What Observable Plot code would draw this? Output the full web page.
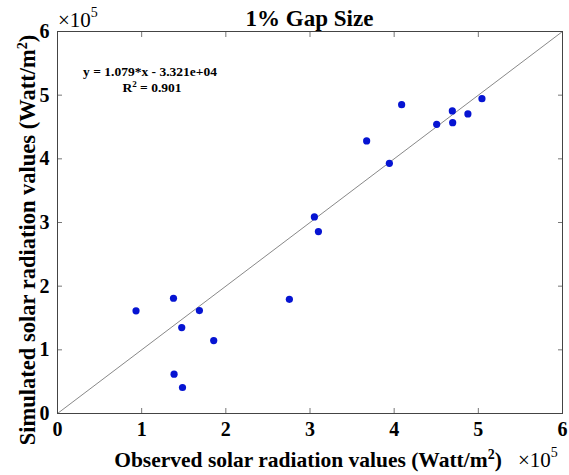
<!DOCTYPE html>
<html>
<head>
<meta charset="utf-8">
<script src="https://cdn.jsdelivr.net/npm/d3@7"></script>
<script src="https://cdn.jsdelivr.net/npm/@observablehq/plot@0.6"></script>
<style>
  html, body { margin: 0; padding: 0; background: white; }
  #chart { width: 569px; height: 475px; }
</style>
</head>
<body>
<div id="chart"></div>
<script>
// Observed (x, ×10^5 W/m²) and simulated (y, ×10^5 W/m²) solar radiation values
const observed  = [0.933, 1.378, 1.686, 1.476, 1.856, 2.755, 1.385, 1.485, 3.052, 3.100, 3.673, 3.943, 4.089, 4.505, 4.691, 4.695, 4.876, 5.043];
const simulated = [1.612, 1.810, 1.617, 1.350, 1.146, 1.794, 0.617, 0.408, 3.088, 2.857, 4.281, 3.929, 4.851, 4.542, 4.752, 4.568, 4.705, 4.945];
const tickValues = [0, 1, 2, 3, 4, 5, 6];
const refLine = [0, 6]; // 1:1 line end points (x = y)
const titleText = "1% Gap Size";
const eqText = "y = 1.079*x - 3.321e+04";
const r2Value = "0.901";

const points = observed.map((x, i) => ({x, y: simulated[i]}));
const linePts = refLine.map(v => ({x: v, y: v}));

const W = 569, H = 475;
const mL = 57, mR = 7, mT = 31, mB = 62;

const chart = Plot.plot({
  width: W, height: H,
  marginLeft: mL, marginRight: mR, marginTop: mT, marginBottom: mB,
  x: {domain: [0, 6]},
  y: {domain: [0, 6]},
  style: {fontFamily: "'Liberation Serif', 'Times New Roman', serif", fontWeight: "bold", fontSize: "20px", background: "white", color: "black"},
  marks: [
    Plot.line(linePts, {x: "x", y: "y", stroke: "#555", strokeWidth: 0.7}),
    Plot.dot(points, {x: "x", y: "y", r: 3.6, fill: "#0614d2", stroke: "none"}),
    Plot.axisX({anchor: "bottom", ticks: tickValues, tickSize: -5, text: null, stroke: "#777", label: null}),
    Plot.axisX({anchor: "top", ticks: tickValues, tickSize: -5, text: null, stroke: "#777", label: null}),
    Plot.axisY({anchor: "left", ticks: tickValues, tickSize: -5, text: null, stroke: "#777", label: null}),
    Plot.axisY({anchor: "right", ticks: tickValues, tickSize: -5, text: null, stroke: "#777", label: null}),
    Plot.axisX({anchor: "bottom", ticks: tickValues, tickSize: 0, tickPadding: 8, tickFormat: d => String(d), label: null}),
    Plot.axisY({anchor: "left", ticks: tickValues, tickSize: 0, tickPadding: 8, tickFormat: d => String(d), label: null}),
    Plot.frame({stroke: "#444", strokeWidth: 1})
  ]
});
document.getElementById("chart").appendChild(chart);

const svg = d3.select(chart);
const font = "'Liberation Serif', 'Times New Roman', serif";
const cx = (mL + (W - mR)) / 2;

function addText(x, y, opts) {
  const t = svg.append("text")
    .attr("x", x).attr("y", y)
    .attr("font-family", font)
    .attr("font-weight", "bold")
    .attr("font-size", opts.size)
    .attr("fill", "black")
    .attr("text-anchor", opts.anchor || "middle");
  if (opts.rotate) t.attr("transform", `rotate(-90 ${x} ${y})`);
  return t;
}

// Title
addText(cx, 26, {size: 23}).text(titleText);

// ×10^5 top-left
{
  const t = addText(58, 27, {size: 21, anchor: "start"});
  t.append("tspan").attr("font-weight", "normal").text("×10");
  t.append("tspan").attr("dy", -10).attr("font-size", 14).attr("font-weight", "normal").text("5");
}
// ×10^5 bottom-right
{
  const t = addText(518, 467, {size: 21, anchor: "start"});
  t.append("tspan").attr("font-weight", "normal").text("×10");
  t.append("tspan").attr("dy", -10).attr("font-size", 14).attr("font-weight", "normal").text("5");
}

// X axis label
{
  const t = addText(308, 467, {size: 21.5});
  t.append("tspan").text("Observed solar radiation values (Watt/m");
  t.append("tspan").attr("dy", -8).attr("font-size", 14).text("2");
  t.append("tspan").attr("dy", 8).text(")");
}
// Y axis label
{
  const x = 35, y = 240;
  const t = addText(x, y, {size: 22.5, rotate: true});
  t.append("tspan").text("Simulated solar radiation values (Watt/m");
  t.append("tspan").attr("dy", -8).attr("font-size", 14).text("2");
  t.append("tspan").attr("dy", 8).text(")");
}

// Equation annotation
addText(150, 76, {size: 13.5}).text(eqText);
{
  const t = addText(152, 92, {size: 13.5});
  t.append("tspan").text("R");
  t.append("tspan").attr("dy", -5).attr("font-size", 9).text("2");
  t.append("tspan").attr("dy", 5).text(" = " + r2Value);
}
</script>
</body>
</html>
